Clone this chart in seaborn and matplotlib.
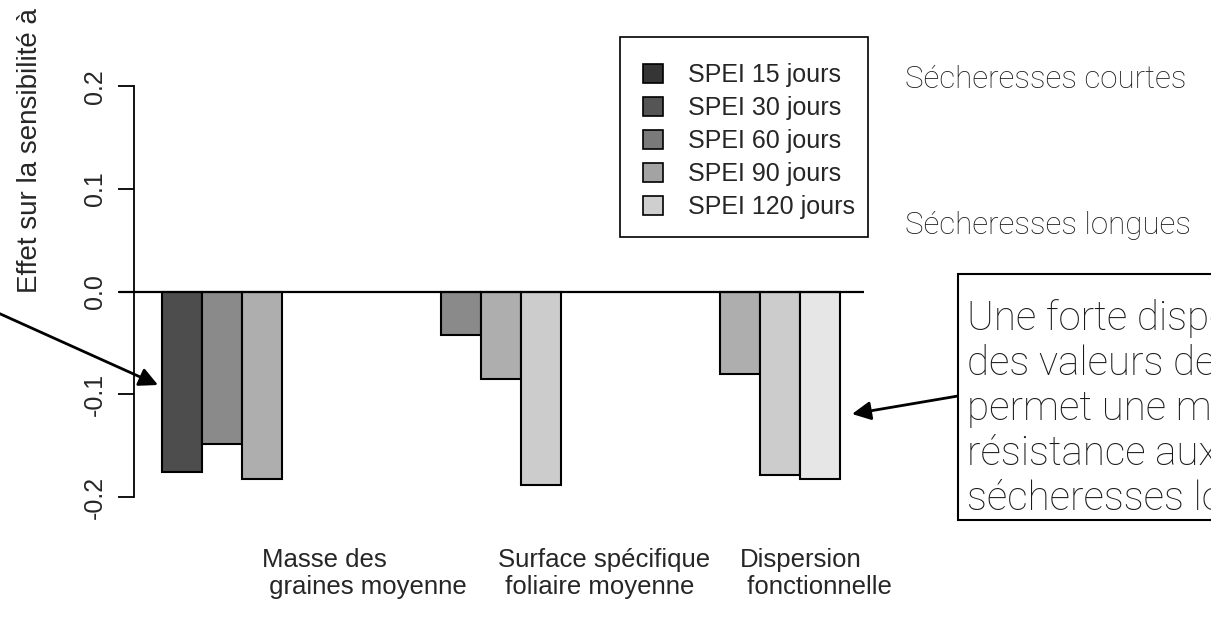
import pandas as pd
import matplotlib.pyplot as plt
import seaborn as sns
from matplotlib.patches import Patch, Rectangle

# Data
traits = ["Masse des graines", "Surface spécifique", "Dispersion"]
spei_levels = ["SPEI 15 jours", "SPEI 30 jours", "SPEI 60 jours", "SPEI 90 jours", "SPEI 120 jours"]
bar_trait = ["Masse des graines"] * 3 + ["Surface spécifique"] * 3 + ["Dispersion"] * 3
bar_spei = ["SPEI 15 jours", "SPEI 30 jours", "SPEI 60 jours",
            "SPEI 30 jours", "SPEI 60 jours", "SPEI 90 jours",
            "SPEI 60 jours", "SPEI 90 jours", "SPEI 120 jours"]
bar_value = [-0.176, -0.148, -0.182,
             -0.042, -0.085, -0.188,
             -0.080, -0.178, -0.182]
group_labels = ["Masse des\n graines moyenne", "Surface spécifique\n foliaire moyenne", "Dispersion\n fonctionnelle"]
yticks = [-0.2, -0.1, 0.0, 0.1, 0.2]

bar_colors = ["#4D4D4D", "#8A8A8A", "#AEAEAE", "#CCCCCC", "#E6E6E6"]
legend_colors = ["#353535", "#555555", "#7A7A7A", "#A3A3A3", "#CFCFCF"]

df = pd.DataFrame({"trait": bar_trait, "spei": bar_spei, "value": bar_value})

sns.set_style("white")
plt.rcParams['font.family'] = ['Liberation Sans', 'DejaVu Sans']
plt.rcParams['axes.unicode_minus'] = False

W, H = 1211, 617
fig = plt.figure(figsize=(W / 100, H / 100), dpi=100)
ax = fig.add_axes([119 / W, (H - 530) / H, 745 / W, 490 / H])

sns.barplot(data=df, x="trait", y="value", hue="spei", order=traits, hue_order=spei_levels,
            palette=dict(zip(spei_levels, bar_colors)), width=5 / 6, errorbar=None,
            edgecolor="black", linewidth=1.5, legend=False, ax=ax)

ax.set_xlim(-0.5964, 2.518)
ax.set_ylim(-0.232, 0.245)
ax.axhline(0, color="black", lw=1.6)

for s in ["top", "right", "bottom"]:
    ax.spines[s].set_visible(False)
ax.spines["left"].set_bounds(-0.2, 0.2)
ax.spines["left"].set_position(("axes", 15 / 745))
ax.spines["left"].set_linewidth(1.3)
ax.spines["left"].set_color("black")
ax.set_xticks([])
ax.set_yticks(yticks)
ax.set_yticklabels([f"{v:.1f}" for v in yticks], rotation=90, va="center")
ax.tick_params(axis="y", left=True, length=11.5, width=1.3, pad=8, labelsize=18, color="black")
ax.set_xlabel("")
ax.set_ylabel("")

# legend (box drawn separately, R style)
fig.add_artist(Rectangle((620 / W, 1 - 237 / H), 248 / W, 200 / H, transform=fig.transFigure,
                         facecolor="none", edgecolor="black", lw=1.2))
handles = [Patch(facecolor=c, edgecolor="black", linewidth=1.2) for c in legend_colors]
leg = ax.legend(handles, spei_levels, loc="upper left", bbox_to_anchor=(643 / W, 1 - 63 / H),
                bbox_transform=fig.transFigure, fontsize=18, frameon=False,
                handlelength=0.78, handleheight=0.8, handletextpad=1.0, labelspacing=0.36,
                borderpad=0, borderaxespad=0)

# axis label (cut off at the top as in the reference)
fig.text(30 / W, 1 - 293 / H, "Effet sur la sensibilité à", rotation=90, ha="center", va="bottom",
         fontsize=20)

# group labels
for lab, xp in zip(group_labels, [262, 498, 740]):
    fig.text(xp / W, 1 - 548 / H, lab, ha="left", va="top", fontsize=18.5, linespacing=1.17)

# drought type labels
fig.text(905 / W, 1 - 80 / H, "Sécheresses courtes", ha="left", va="center", fontsize=22.5,
         family="Roboto", fontweight="light", color="#1a1a1a")
fig.text(905 / W, 1 - 225 / H, "Sécheresses longues", ha="left", va="center", fontsize=22.5,
         family="Roboto", fontweight="light", color="#1a1a1a")

# annotation box
fig.add_artist(Rectangle((958 / W, 1 - 520 / H), 0.4, 246 / H, transform=fig.transFigure,
                         facecolor="white", edgecolor="black", lw=1.5))
fig.text(967 / W, 1 - 299 / H,
         "Une forte dispersion\ndes valeurs de traits\npermet une meilleure\nrésistance aux\nsécheresses longues",
         ha="left", va="top", fontsize=29, linespacing=1.21, family="Roboto", fontweight="light",
         color="#1a1a1a")

# arrows
ax.annotate("", xy=(158, H - 385), xytext=(-4, H - 312), xycoords="figure pixels",
            textcoords="figure pixels",
            arrowprops=dict(arrowstyle="-|>", mutation_scale=28, lw=2, color="black", shrinkA=0, shrinkB=0))
ax.annotate("", xy=(852, H - 414), xytext=(958, H - 396), xycoords="figure pixels",
            textcoords="figure pixels",
            arrowprops=dict(arrowstyle="-|>", mutation_scale=28, lw=2, color="black", shrinkA=0, shrinkB=0))

fig.savefig("out.png", dpi=100)
